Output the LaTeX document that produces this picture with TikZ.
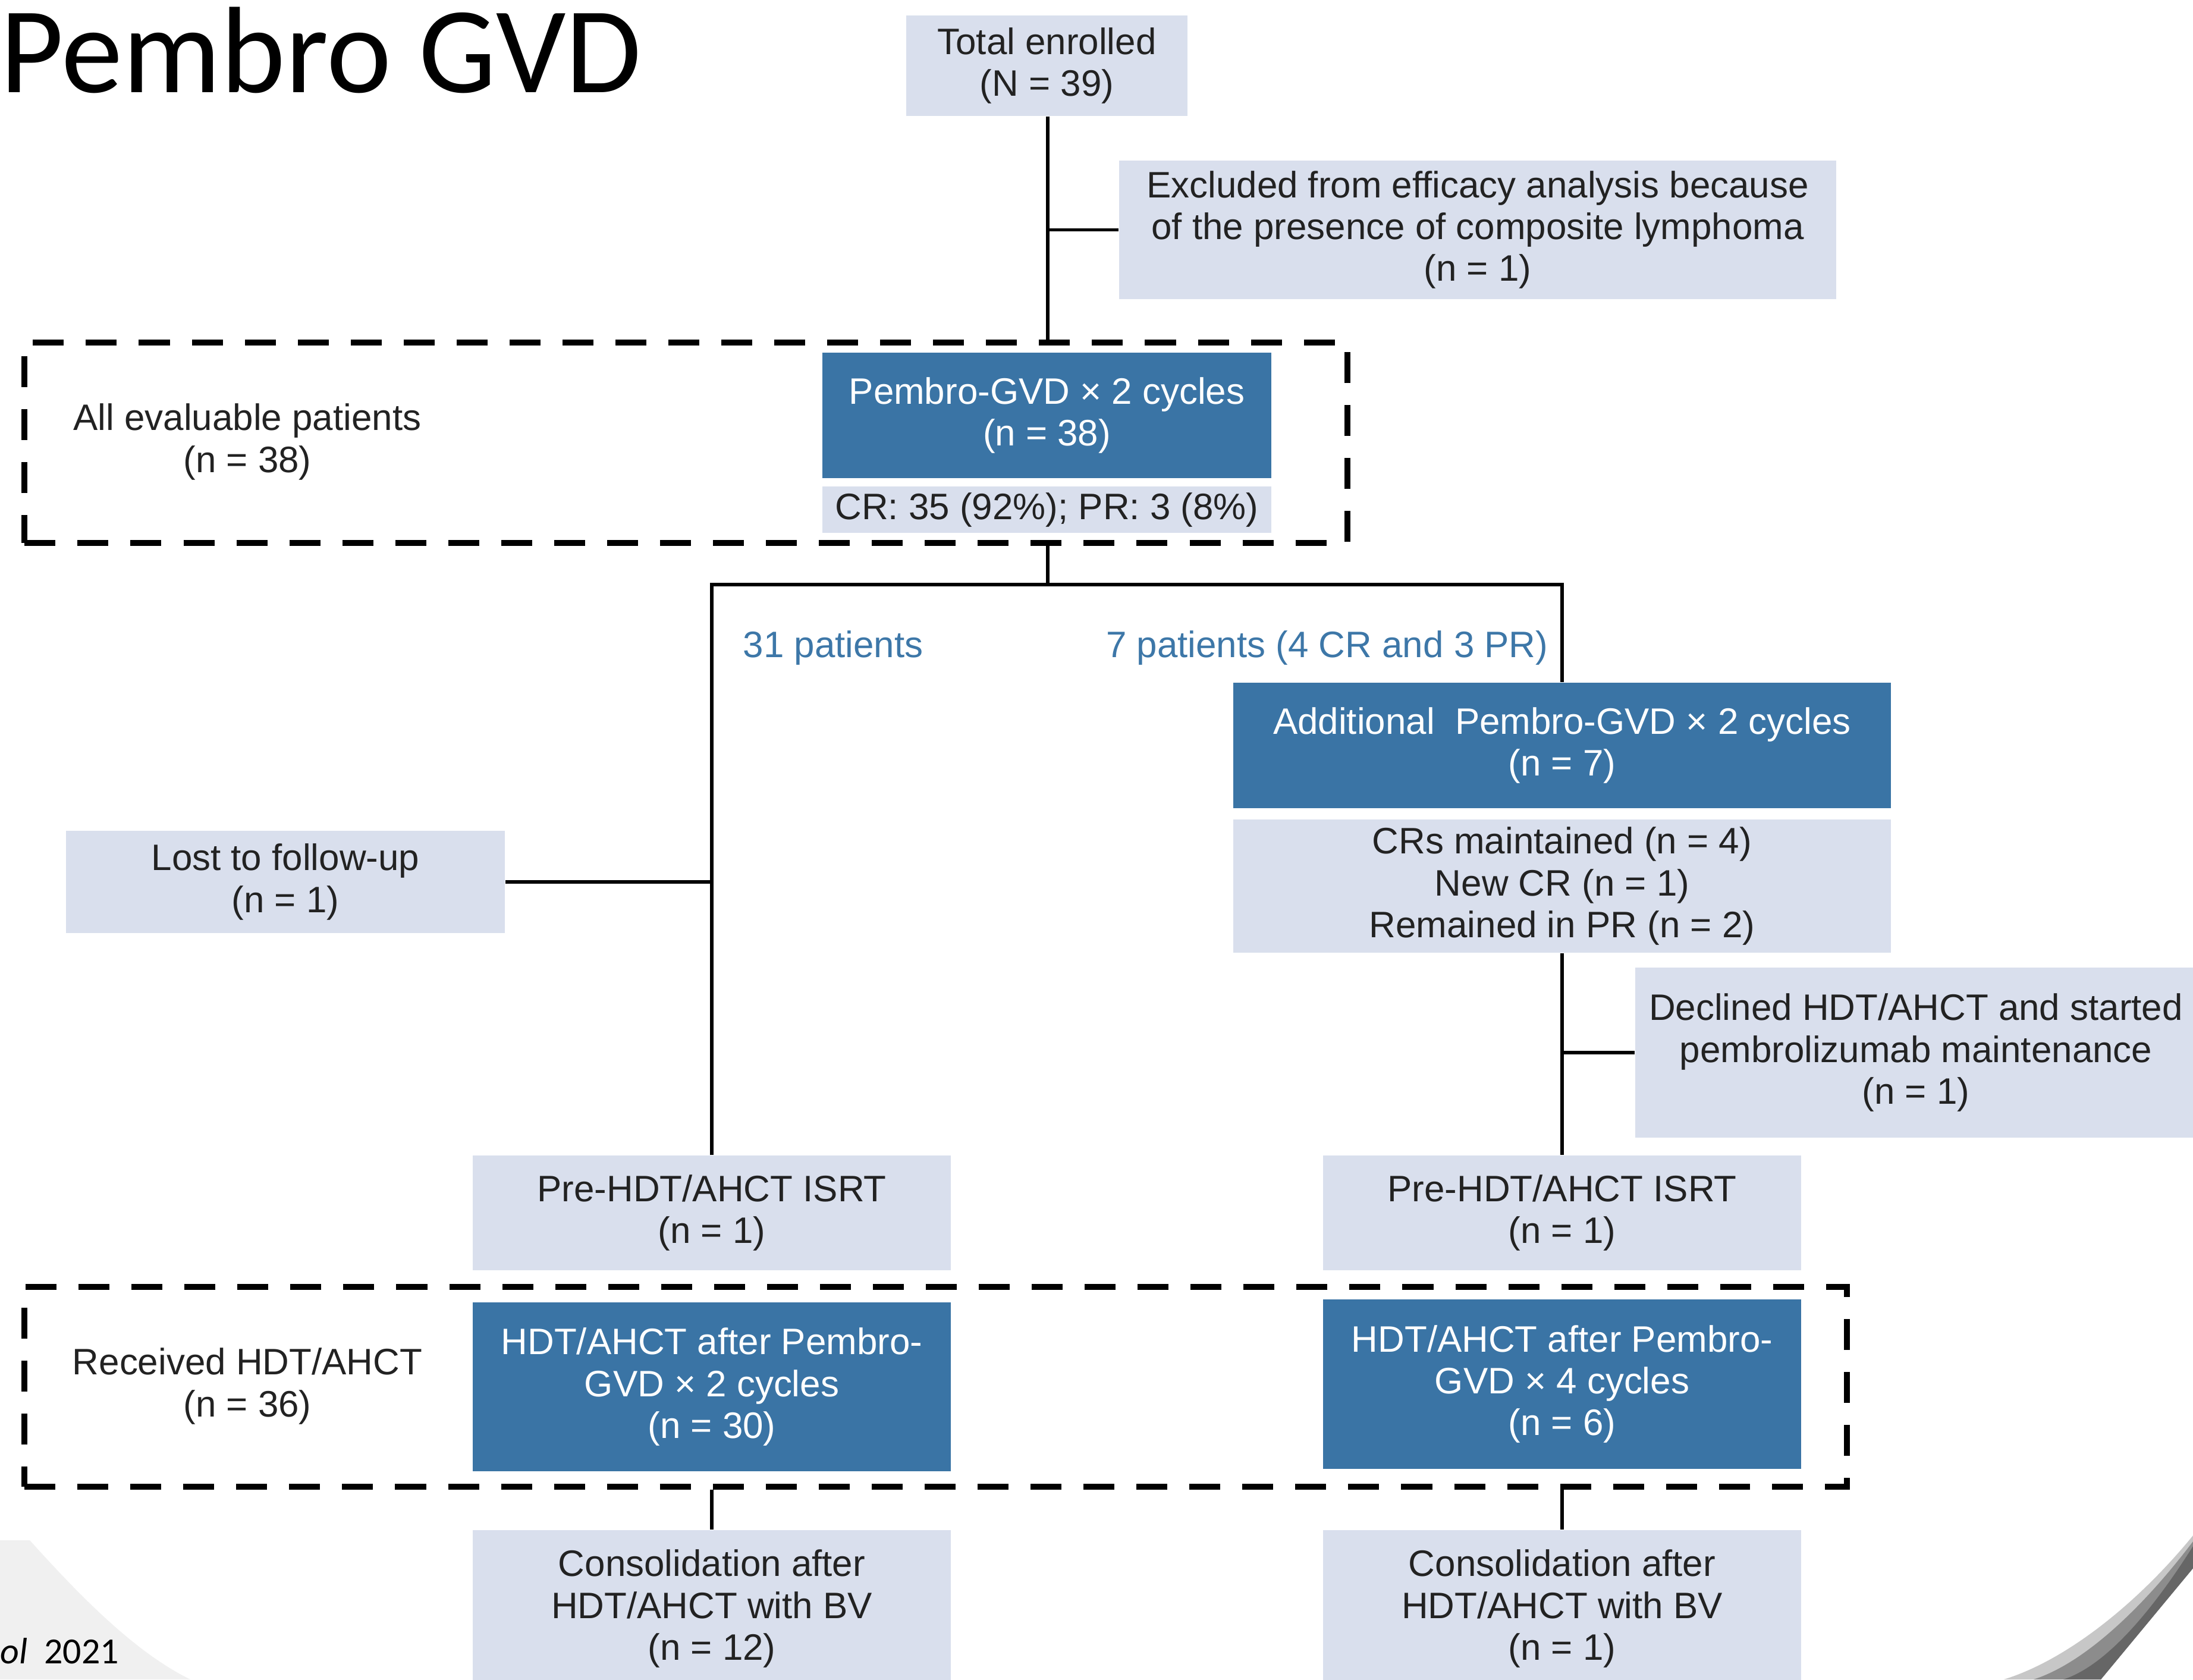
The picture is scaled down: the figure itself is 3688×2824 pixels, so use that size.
\documentclass[tikz,border=0pt]{standalone}
\usepackage{fontspec}
\setmainfont{Liberation Sans}
\newfontfamily\carlito{Carlito}
\definecolor{lightbox}{HTML}{D9DFED}
\definecolor{bluebox}{HTML}{3A74A5}
\definecolor{bluetext}{HTML}{3D77A8}
\definecolor{boxtext}{HTML}{222222}
\newcommand{\boxfs}{\fontsize{17.6}{20}\selectfont}
\begin{document}
\begin{tikzpicture}[x=0.01cm, y=-0.01cm,
  lbox/.style={fill=lightbox, inner sep=0pt, align=center, font=\boxfs, text=boxtext},
  bbox/.style={fill=bluebox, inner sep=0pt, align=center, font=\boxfs, text=white},
  plaintext/.style={inner sep=0pt, align=center, font=\boxfs, text=boxtext},
  bluelabel/.style={inner sep=0pt, font=\boxfs, text=bluetext},
  dashbox/.style={draw=black, line width=2.85pt, dash pattern=on 0.52cm off 0.37cm, inner sep=0pt},
  conn/.style={draw=black, line width=1.7pt}
]
\useasboundingbox (0,0) rectangle (3688,2824);
\clip (0,0) rectangle (3688,2824);
\fill[white] (0,0) rectangle (3688,2824);

% slide decorations
\fill[black!6] (0,2590) -- (50,2590) .. controls (140,2690) and (230,2780) .. (320,2824) -- (0,2824) -- cycle;
\fill[black!22] (3688,2582) .. controls (3600,2690) and (3480,2790) .. (3370,2824) -- (3533,2824) -- (3688,2637) -- cycle;
\fill[black!45] (3688,2592) .. controls (3610,2695) and (3510,2795) .. (3420,2824) -- (3533,2824) -- (3688,2637) -- cycle;
\fill[black!60] (3688,2600) .. controls (3625,2700) and (3545,2800) .. (3470,2824) -- (3533,2824) -- (3688,2637) -- cycle;

% title and reference
\node[anchor=base west, inner sep=0pt, font=\carlito\fontsize{58.8}{70}\selectfont] (title) at (0,155) {Pembro GVD};
\node[anchor=base west, inner sep=0pt, font=\carlito\fontsize{17.6}{20}\selectfont] (ref) at (0,2797) {\textit{ol}\hspace{0.45em}2021};

% dashed groups
\node[dashbox, minimum width=22.23cm, minimum height=3.37cm] (dash1) at (1153.5,744.5) {};
\node[dashbox, minimum width=30.63cm, minimum height=3.36cm] (dash2) at (1573.5,2332) {};

% boxes
\node[lbox, minimum width=4.73cm, minimum height=1.69cm] (total) at (1760.5,110.5) {Total enrolled\\(N = 39)};
\node[lbox, minimum width=12.06cm, minimum height=2.33cm] (excl) at (2485,386.5) {Excluded from efficacy analysis because\\of the presence of composite lymphoma\\(n = 1)};
\node[bbox, minimum width=7.55cm, minimum height=2.11cm] (pem) at (1760.5,698.5) {Pembro-GVD × 2 cycles\\(n = 38)};
\node[lbox, minimum width=7.55cm, minimum height=0.78cm] (cr) at (1760.5,857) {CR: 35 (92\%); PR: 3 (8\%)};
\node[plaintext] (evaluable) at (416,743) {All evaluable patients\\(n = 38)};

\node[bluelabel, anchor=west] (lab31) at (1249,1089) {31 patients};
\node[bluelabel, anchor=east] (lab7) at (2604,1089) {7 patients (4 CR and 3 PR)};

\node[bbox, minimum width=11.06cm, minimum height=2.11cm] (add) at (2627,1253.5) {Additional\ \ Pembro-GVD × 2 cycles\\(n = 7)};
\node[lbox, minimum width=11.06cm, minimum height=2.24cm] (crm) at (2627,1490) {CRs maintained (n = 4)\\New CR (n = 1)\\Remained in PR (n = 2)};
\node[lbox, minimum width=7.38cm, minimum height=1.72cm] (lost) at (480,1483) {Lost to follow-up\\(n = 1)};
\node[lbox, minimum width=9.44cm, minimum height=2.86cm] (declined) at (3222,1770) {Declined HDT/AHCT and started\\pembrolizumab maintenance\\(n = 1)};

\node[lbox, minimum width=8.04cm, minimum height=1.93cm] (prel) at (1197,2039.5) {Pre-HDT/AHCT ISRT\\(n = 1)};
\node[lbox, minimum width=8.04cm, minimum height=1.93cm] (prer) at (2627,2039.5) {Pre-HDT/AHCT ISRT\\(n = 1)};

\node[plaintext] (received) at (416,2331) {Received HDT/AHCT\\(n = 36)};
\node[bbox, minimum width=8.04cm, minimum height=2.84cm] (hdtl) at (1197,2332) {HDT/AHCT after Pembro-\\GVD × 2 cycles\\(n = 30)};
\node[bbox, minimum width=8.04cm, minimum height=2.85cm] (hdtr) at (2627,2327.5) {HDT/AHCT after Pembro-\\GVD × 4 cycles\\(n = 6)};

\node[lbox, minimum width=8.04cm, minimum height=2.64cm] (consl) at (1197,2705) {Consolidation after\\HDT/AHCT with BV\\(n = 12)};
\node[lbox, minimum width=8.04cm, minimum height=2.64cm] (consr) at (2627,2705) {Consolidation after\\HDT/AHCT with BV\\(n = 1)};

% connectors
\coordinate (split) at (1762,983);
\draw[conn] (total.south -| split) -- (dash1.north -| split);
\draw[conn] (excl.west) -- (excl.west -| split);
\draw[conn] (dash1.south -| split) -- (split);
\draw[conn] (prel.north) |- (split) -| (add.north);
\draw[conn] (lost.east) -- (lost.east -| prel.north);
\draw[conn] (crm.south) -- (prer.north);
\draw[conn] (declined.west) -- (declined.west -| crm.south);
\draw[conn] (dash2.south -| consl.north) -- (consl.north);
\draw[conn] (dash2.south -| consr.north) -- (consr.north);
\end{tikzpicture}
\end{document}
